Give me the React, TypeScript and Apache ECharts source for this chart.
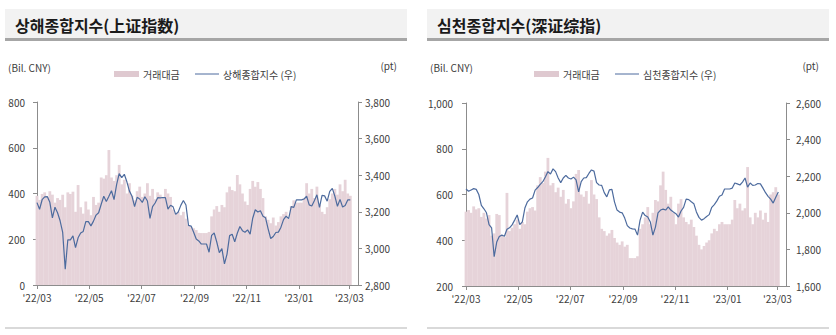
import React, { useEffect, useRef } from 'react';
import * as echarts from 'echarts';

// x positions: calendar-day offsets from 2022-03-24, one sample every 3 days
const STEP_DAYS = 3;
const TICK_DAYS = [0, 61, 122, 184, 245, 306, 365];
const TICK_LABELS = ["'22/03", "'22/05", "'22/07", "'22/09", "'22/11", "'23/01", "'23/03"];

const LEFT_TITLE = '상해종합지수(上证指数)';
const RIGHT_TITLE = '심천종합지수(深证综指)';
const BAR_NAME = '거래대금';
const SSE_NAME = '상해종합지수 (우)';
const SZSE_NAME = '심천종합지수 (우)';

// 상해종합지수 (pt)
const SSE_INDEX = [
  3250, 3214, 3266, 3282, 3283, 3252, 3167, 3225, 3195, 3151,
  3087, 2886, 3047, 3047, 3068, 3004, 3058, 3084, 3093, 3146,
  3146, 3123, 3149, 3182, 3195, 3241, 3285, 3256, 3285, 3315,
  3267, 3349, 3409, 3387, 3405, 3364, 3313, 3285, 3228, 3279,
  3270, 3251, 3282, 3259, 3164, 3228, 3248, 3277, 3276, 3278,
  3277, 3215, 3236, 3227, 3186, 3199, 3235, 3262, 3237, 3126,
  3122, 3088, 3051, 3041, 3024, 3024, 3024, 2979, 3071, 3084,
  3035, 2977, 2999, 2915, 2969, 3070, 3077, 3036, 3083, 3120,
  3097, 3088, 3101, 3078, 3165, 3211, 3199, 3206, 3176, 3167,
  3107, 3054, 3065, 3087, 3089, 3116, 3157, 3176, 3163, 3228,
  3224, 3265, 3265, 3265, 3270, 3285, 3238, 3232, 3261, 3293,
  3224, 3290, 3287, 3258, 3312, 3328, 3285, 3230, 3268, 3226,
  3234, 3265, 3265,
];

// 상해 거래대금 (Bil. CNY)
const SSE_VOL = [
  390, 372, 398, 405, 385, 410, 395, 360, 380, 372,
  395, 340, 405, 398, 408, 320, 437, 340, 312, 365,
  330, 305, 385, 350, 360, 470, 465, 480, 590, 470,
  455, 480, 525, 440, 460, 400, 445, 390, 370, 410,
  430, 385, 400, 445, 390, 420, 375, 405, 395, 380,
  420, 400, 385, 330, 315, 320, 305, 320, 290, 262,
  255, 248, 240, 228, 227, 227, 227, 232, 300, 330,
  345, 320, 350, 340, 405, 430, 415, 410, 481, 440,
  400, 365, 350, 420, 455, 430, 450, 420, 380, 300,
  285, 270, 295, 260, 275, 300, 310, 320, 290, 345,
  370, 360, 360, 360, 380, 445, 400, 420, 380, 430,
  350, 320, 310, 340, 375, 400, 420, 395, 440, 410,
  460, 400, 390,
];

// 심천종합지수 (pt)
const SZSE_INDEX = [
  2130, 2118, 2125, 2132, 2128, 2100, 2040, 2022, 2000, 1935,
  1918, 1760, 1840, 1870, 1878, 1872, 1910, 1918, 1934, 1960,
  1988, 1935, 1950, 2026, 2060, 2075, 2081, 2124, 2138, 2155,
  2170, 2196, 2225, 2212, 2240, 2225, 2190, 2165, 2190, 2205,
  2190, 2185, 2195, 2180, 2114, 2170, 2190, 2192, 2215, 2234,
  2228, 2165, 2152, 2150, 2110, 2087, 2125, 2128, 2060, 2015,
  2004, 2000, 1971, 1930, 1917, 1912, 1911, 1878, 1960, 2004,
  1985, 1977, 1950, 1878, 1922, 2000, 2015, 2020, 2015, 2032,
  2015, 2004, 1995, 1977, 2010, 2030, 2075, 2072, 2060, 2050,
  2005, 1975, 1960, 1968, 1980, 1990, 2030, 2045, 2065, 2090,
  2097, 2130, 2130, 2130, 2135, 2163, 2158, 2152, 2168, 2190,
  2140, 2163, 2150, 2152, 2160, 2158, 2135, 2110, 2090, 2075,
  2053, 2085, 2114,
];

// 심천 거래대금 (Bil. CNY)
const SZSE_VOL = [
  525, 532, 520, 548, 535, 540, 502, 520, 495, 510,
  420, 430, 515, 510, 420, 414, 607, 440, 455, 470,
  490, 450, 480, 470, 525, 540, 545, 530, 640, 676,
  650, 700, 760, 640, 650, 610, 630, 590, 620, 560,
  580, 540, 570, 690, 707, 600, 590, 615, 560, 663,
  600, 580, 500, 450, 440, 420, 430, 445, 410, 390,
  380, 395, 372, 380, 322, 322, 322, 330, 450, 470,
  500, 545, 470, 520, 576, 570, 640, 700, 620, 560,
  590, 520, 470, 560, 580, 500, 480, 470, 490, 458,
  420, 380, 360, 375, 390, 400, 430, 450, 440, 470,
  480, 470, 470, 470, 490, 576, 540, 560, 530, 540,
  720, 500, 470, 520, 500, 530, 490, 520, 480, 600,
  610, 632, 600,
];

const SAMPLE_DAYS = SSE_INDEX.map((_, i) => i * STEP_DAYS);

const FONT = '"Noto Sans CJK KR", "Noto Sans", sans-serif';
const AXIS_COLOR = '#8c8c8c';
const LABEL_COLOR = '#404040';
const BAR_COLOR = '#e6d3d9';
const LEGEND_BAR_COLOR = '#dfc9d0';
const LINE_COLOR = '#4d6b9e';

function pairs(values: number[]) {
  return values.map((v, i) => [SAMPLE_DAYS[i], v]);
}

function makeXAxis(gridIndex: number) {
  return {
    type: 'value',
    gridIndex,
    min: 0,
    max: 375,
    axisLine: { show: true, onZero: false, lineStyle: { color: AXIS_COLOR } },
    axisTick: { show: true, length: 4, customValues: TICK_DAYS, lineStyle: { color: AXIS_COLOR } },
    axisLabel: {
      customValues: TICK_DAYS,
      formatter: (v: number) => {
        const i = TICK_DAYS.indexOf(Math.round(v));
        return i >= 0 ? TICK_LABELS[i] : '';
      },
      fontSize: 10,
      color: LABEL_COLOR,
      fontFamily: FONT,
      margin: 7,
    },
    splitLine: { show: false },
  };
}

function makeYAxis(gridIndex: number, position: string, min: number, max: number, margin: number) {
  return {
    type: 'value',
    gridIndex,
    position,
    min,
    max,
    interval: 200,
    axisLine: { show: true, onZero: false, lineStyle: { color: AXIS_COLOR } },
    axisTick: { show: true, length: 4, lineStyle: { color: AXIS_COLOR } },
    axisLabel: {
      formatter: (v: number) => v.toLocaleString('en-US'),
      fontSize: 10,
      color: LABEL_COLOR,
      fontFamily: FONT,
      margin,
    },
    splitLine: { show: false },
  };
}

function panelGraphics(x0: number, title: string) {
  return [
    { type: 'rect', silent: true, shape: { x: x0, y: 9, width: 402, height: 29 }, style: { fill: '#f2f2f2' } },
    { type: 'rect', silent: true, shape: { x: x0, y: 38, width: 402, height: 3 }, style: { fill: '#a6a6a6' } },
    { type: 'rect', silent: true, shape: { x: x0, y: 327, width: 402, height: 2 }, style: { fill: '#d9d9d9' } },
    {
      type: 'text', silent: true, x: x0 + 10, y: 25,
      style: { text: title, fontSize: 16, fontWeight: 'bold', fontFamily: FONT, fill: '#1a1a1a', verticalAlign: 'middle', align: 'left' },
    },
    {
      type: 'text', silent: true, x: x0 + 3, y: 67,
      style: { text: '(Bil. CNY)', fontSize: 10, fontFamily: FONT, fill: LABEL_COLOR, verticalAlign: 'middle', align: 'left' },
    },
    {
      type: 'text', silent: true, x: x0 + 392, y: 65,
      style: { text: '(pt)', fontSize: 10, fontFamily: FONT, fill: LABEL_COLOR, verticalAlign: 'middle', align: 'right' },
    },
  ];
}

function legendGraphics(x0: number, lineName: string) {
  const cy = 74;
  return [
    { type: 'rect', silent: true, shape: { x: x0, y: cy - 3, width: 25, height: 6 }, style: { fill: LEGEND_BAR_COLOR } },
    {
      type: 'text', silent: true, x: x0 + 29, y: cy,
      style: { text: BAR_NAME, fontSize: 10, fontFamily: FONT, fill: LABEL_COLOR, verticalAlign: 'middle', align: 'left' },
    },
    {
      type: 'line', silent: true, shape: { x1: x0 + 81, y1: cy, x2: x0 + 105, y2: cy },
      style: { stroke: LINE_COLOR, lineWidth: 1 },
    },
    {
      type: 'text', silent: true, x: x0 + 109, y: cy,
      style: { text: lineName, fontSize: 10, fontFamily: FONT, fill: LABEL_COLOR, verticalAlign: 'middle', align: 'left' },
    },
  ];
}

export default function App() {
  const ref = useRef<HTMLDivElement>(null);
  useEffect(() => {
    const chart = echarts.init(ref.current!, null, { renderer: 'svg' });
    const option: any = {
      animation: false,
      backgroundColor: '#ffffff',
      graphic: [
        ...panelGraphics(5, LEFT_TITLE),
        ...panelGraphics(427, RIGHT_TITLE),
        ...legendGraphics(114, SSE_NAME),
        ...legendGraphics(534, SZSE_NAME),
      ],
      grid: [
        { left: 37, right: 478, top: 102, bottom: 50 },
        { left: 466, right: 50, top: 103, bottom: 49 },
      ],
      xAxis: [makeXAxis(0), makeXAxis(1)],
      yAxis: [
        makeYAxis(0, 'left', 0, 800, 12),
        makeYAxis(0, 'right', 2800, 3800, 7),
        makeYAxis(1, 'left', 200, 1000, 13),
        makeYAxis(1, 'right', 1600, 2600, 10),
      ],
      series: [
        {
          name: BAR_NAME, type: 'bar', xAxisIndex: 0, yAxisIndex: 0,
          data: pairs(SSE_VOL), barWidth: 2.8, itemStyle: { color: BAR_COLOR },
        },
        {
          name: SSE_NAME, type: 'line', xAxisIndex: 0, yAxisIndex: 1,
          data: pairs(SSE_INDEX), symbol: 'none', lineStyle: { width: 1.2, color: LINE_COLOR }, itemStyle: { color: LINE_COLOR },
        },
        {
          name: BAR_NAME, type: 'bar', xAxisIndex: 1, yAxisIndex: 2,
          data: pairs(SZSE_VOL), barWidth: 2.8, itemStyle: { color: BAR_COLOR },
        },
        {
          name: SZSE_NAME, type: 'line', xAxisIndex: 1, yAxisIndex: 3,
          data: pairs(SZSE_INDEX), symbol: 'none', lineStyle: { width: 1.2, color: LINE_COLOR }, itemStyle: { color: LINE_COLOR },
        },
      ],
    };
    chart.setOption(option);
    return () => chart.dispose();
  }, []);
  return (
    <div
      ref={ref}
      style={{ position: 'fixed', left: 0, top: 0, width: 836, height: 335, background: '#fff' }}
    />
  );
}
